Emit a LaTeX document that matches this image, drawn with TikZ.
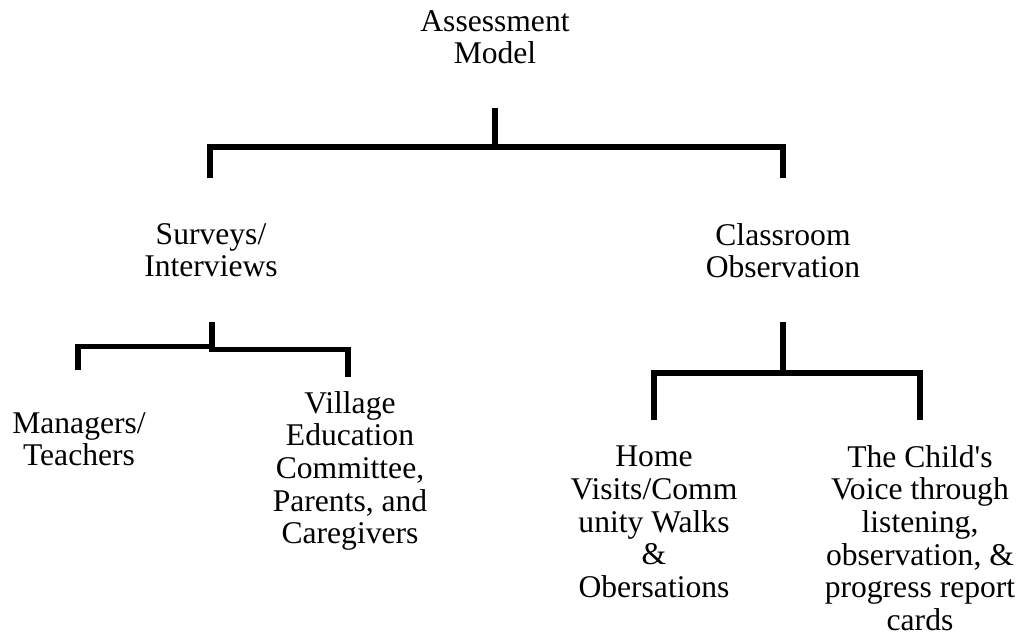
\documentclass[tikz,border=0pt]{standalone}
\usepackage{fontspec}
\setmainfont{Liberation Serif}
\tikzset{
    topic/.style={align=center, inner sep=0pt, anchor=north,
                  font=\fontsize{23.7}{24.5}\selectfont},
    bracket/.style={line width=4.2pt, line join=miter, line cap=butt},
}

\begin{document}
\begin{tikzpicture}[x=0.75pt, y=-0.75pt]
    \useasboundingbox (0,0) rectangle (1021,639);

    % text of the tree
    \node[topic] (model) at (495,10) {Assessment\\Model};
    \node[topic] (surveys) at (211,223) {Surveys/\\Interviews};
    \node[topic] (observation) at (783,223) {Classroom\\Observation};
    \node[topic] (managers) at (79,412) {Managers/\\Teachers};
    \node[topic] (village) at (350,391) {Village\\Education\\Committee,\\Parents, and\\Caregivers};
    \node[topic] (home) at (654,446) {Home\\Visits/Comm\\unity Walks\\\&\\Obersations};
    \node[topic] (voice) at (920,445) {The Child\textquotesingle s\\Voice through\\listening,\\observation, \&\\progress report\\cards};

    % joints of the brackets
    \coordinate (modelstem) at (495,108);
    \coordinate (modeljoin) at (495,147);
    \coordinate (surveysleg) at (210,178);
    \coordinate (observationleg) at (783,178);

    \coordinate (surveysstem) at (212,322);
    \coordinate (surveysjoin) at (212,348);
    \coordinate (managersleg) at (78,370);
    \coordinate (villageleg) at (348,377);

    \coordinate (observationstem) at (783,322);
    \coordinate (observationjoin) at (783,373);
    \coordinate (homeleg) at (654,420);
    \coordinate (voiceleg) at (920,420);

    \draw[bracket] (modelstem) -- (modeljoin);
    \draw[bracket] (surveysleg) |- (modeljoin) -| (observationleg);

    \draw[bracket] (surveysstem) -- (surveysjoin);
    \draw[bracket] (managersleg) |- ([yshift=1.2pt]surveysjoin);
    \draw[bracket] (surveysjoin) |- ([yshift=-1.2pt]surveysjoin -| villageleg) -- (villageleg);

    \draw[bracket] (observationstem) -- (observationjoin);
    \draw[bracket] (homeleg) |- (observationjoin) -| (voiceleg);
\end{tikzpicture}
\end{document}
